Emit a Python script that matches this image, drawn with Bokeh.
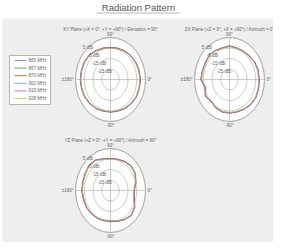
import numpy as np
from bokeh.plotting import figure
from bokeh.models import Range1d
from bokeh.embed import file_html
from bokeh.resources import INLINE
from bokeh.core.properties import value

# ---------------- data ----------------
angles_deg = [0, 15, 30, 45, 60, 75, 90, 105, 120, 135, 150, 165,
              180, 195, 210, 225, 240, 255, 270, 285, 300, 315, 330, 345]
freq_labels = ["865 MHz", "867 MHz", "870 MHz", "902 MHz", "915 MHz", "928 MHz"]
colors = ["#7070ee", "#33a033", "#e03030", "#30b8b8", "#cc44cc", "#c8c83c"]

ring_levels = [5, -5, -15, -25]
ring_labels = ["5 dBi", "-5 dBi", "-15 dBi", "-25 dBi"]
gain_min, gain_max = -35, 5
angle_tick_labels = ["0°", "90°", "±180°", "-90°"]

main_title = "Radiation Pattern"
plane_titles = ["XY Plane (+X = 0°, +Y = +90°) / Elevation = 90°",
                "ZX Plane (+Z = 0°, +X = +90°) / Azimuth = 0°",
                "YZ Plane (+Z = 0°, +Y = +90°) / Azimuth = 90°"]

XY_865 = [-1.0,-1.2,-1.8,-2.5,-3.5,-4.2,-4.5,-4.0,-3.0,-1.5,-0.8,-0.6,-0.5,-0.8,-1.2,-2.0,-3.0,-3.8,-4.0,-3.8,-3.0,-2.0,-1.2,-0.9]
XY_867 = [-1.1,-1.3,-1.9,-2.6,-3.4,-4.1,-4.4,-4.1,-3.1,-1.6,-0.9,-0.7,-0.6,-0.9,-1.3,-2.1,-3.1,-3.9,-4.1,-3.7,-2.9,-2.1,-1.3,-1.0]
XY_870 = [-0.8,-1.0,-1.6,-2.3,-3.3,-4.0,-4.3,-3.8,-2.8,-1.3,-0.6,-0.4,-0.3,-0.6,-1.0,-1.8,-2.8,-3.6,-3.8,-3.6,-2.8,-1.8,-1.0,-0.7]
XY_902 = [-1.4,-1.6,-2.1,-2.9,-3.8,-4.6,-4.9,-4.4,-3.3,-1.9,-1.1,-0.9,-0.9,-1.1,-1.6,-2.4,-3.3,-4.1,-4.4,-4.2,-3.4,-2.4,-1.5,-1.2]
XY_915 = [-1.2,-1.4,-2.0,-2.7,-3.6,-4.4,-4.7,-4.2,-3.2,-1.7,-1.0,-0.8,-0.7,-1.0,-1.4,-2.2,-3.2,-4.0,-4.2,-4.0,-3.2,-2.2,-1.4,-1.1]
XY_928 = [-1.6,-1.8,-2.3,-3.0,-4.0,-4.8,-5.1,-4.6,-3.5,-2.1,-1.3,-1.1,-1.0,-1.3,-1.8,-2.6,-3.5,-4.3,-4.6,-4.4,-3.6,-2.6,-1.7,-1.4]

ZX_865 = [-1.0,-1.0,-1.8,-3.0,-3.8,-3.8,-3.0,-3.8,-3.0,-2.2,-3.0,-3.0,-2.2,-6.2,-3.0,-5.4,-3.8,-3.0,-3.0,-3.0,-2.2,-1.0,-0.2,-0.6]
ZX_867 = [-1.2,-1.1,-1.9,-3.1,-3.7,-3.9,-3.2,-3.9,-3.1,-2.4,-3.2,-3.1,-2.5,-6.5,-3.3,-5.6,-4.0,-3.1,-3.1,-3.1,-2.3,-1.1,-0.4,-0.8]
ZX_870 = [-0.9,-0.8,-1.6,-2.8,-3.6,-3.6,-2.8,-3.6,-2.8,-2.0,-2.8,-2.8,-2.0,-6.0,-2.8,-5.2,-3.6,-2.8,-2.8,-2.8,-2.0,-0.8,-0.1,-0.5]
ZX_902 = [-1.4,-1.5,-2.2,-3.4,-4.1,-4.2,-3.5,-4.1,-3.3,-2.6,-3.5,-3.4,-2.8,-6.9,-3.6,-5.9,-4.2,-3.4,-3.4,-3.3,-2.6,-1.4,-0.6,-1.0]
ZX_915 = [-1.3,-1.3,-2.0,-3.2,-4.0,-4.0,-3.3,-4.0,-3.2,-2.5,-3.3,-3.2,-2.6,-6.6,-3.4,-5.7,-4.1,-3.2,-3.2,-3.2,-2.4,-1.2,-0.5,-0.9]
ZX_928 = [-1.6,-1.7,-2.4,-3.6,-4.3,-4.4,-3.7,-4.3,-3.5,-2.8,-3.7,-3.6,-3.0,-7.2,-3.8,-6.1,-4.4,-3.6,-3.6,-3.5,-2.8,-1.6,-0.8,-1.2]

YZ_865 = [-7.8,-5.0,-2.2,-1.8,-3.0,-4.2,-4.6,-3.8,-1.4,-0.6,-1.8,-2.2,-2.2,-3.0,-3.0,-3.8,-4.6,-5.4,-5.8,-4.6,-3.0,-1.4,-3.0,-7.0]
YZ_867 = [-8.0,-5.2,-2.3,-1.9,-3.1,-4.3,-4.7,-3.9,-1.5,-0.8,-1.9,-2.3,-2.4,-3.1,-3.2,-3.9,-4.7,-5.5,-5.9,-4.7,-3.1,-1.6,-3.2,-7.2]
YZ_870 = [-7.6,-4.8,-2.0,-1.6,-2.8,-4.0,-4.4,-3.6,-1.2,-0.4,-1.6,-2.0,-2.0,-2.8,-2.8,-3.6,-4.4,-5.2,-5.6,-4.4,-2.8,-1.2,-2.8,-6.8]
YZ_902 = [-8.3,-5.5,-2.6,-2.2,-3.4,-4.6,-5.0,-4.2,-1.8,-1.0,-2.2,-2.6,-2.6,-3.4,-3.4,-4.2,-5.0,-5.8,-6.2,-5.0,-3.4,-1.8,-3.4,-7.5]
YZ_915 = [-8.1,-5.3,-2.5,-2.0,-3.2,-4.4,-4.8,-4.0,-1.6,-0.9,-2.0,-2.4,-2.5,-3.2,-3.3,-4.0,-4.9,-5.6,-6.0,-4.8,-3.2,-1.7,-3.3,-7.3]
YZ_928 = [-8.5,-5.7,-2.8,-2.4,-3.6,-4.8,-5.2,-4.4,-2.0,-1.2,-2.4,-2.8,-2.8,-3.6,-3.6,-4.4,-5.2,-6.0,-6.4,-5.2,-3.6,-2.0,-3.6,-7.7]

planes = [
    [XY_865, XY_867, XY_870, XY_902, XY_915, XY_928],
    [ZX_865, ZX_867, ZX_870, ZX_902, ZX_915, ZX_928],
    [YZ_865, YZ_867, YZ_870, YZ_902, YZ_915, YZ_928],
]

# ---------------- layout ----------------
W, H = 273, 242
centers = [(118, 87), (237, 87), (118, 198)]
RX, RY = 35, 42
FONT = value("Liberation Sans")
TXT = "#666666"
GRID = "#a8a8a8"

p = figure(width=W, height=H, x_range=Range1d(8, 8 + W), y_range=Range1d(8 + H, 8),
           output_backend="svg", toolbar_location=None, min_border=0,
           x_axis_location=None, y_axis_location=None)
p.grid.visible = False
p.outline_line_color = None
p.background_fill_color = "white"
p.border_fill_color = "white"

# panel background
p.quad(left=10, right=8 + W, top=26, bottom=8 + H, fill_color="#eeeeee", line_color=None)

# main title
p.text(x=[146], y=[15], text=[main_title], text_font=FONT, text_font_size="9.5px",
       text_align="center", text_baseline="middle", text_color="#555555")
p.segment(x0=[104], y0=[20.5], x1=[188], y1=[20.5], line_color="#888888", line_width=0.6)


def norm(db):
    return (np.asarray(db, dtype=float) - gain_min) / (gain_max - gain_min)


for (cx, cy), ptitle, series in zip(centers, plane_titles, planes):
    # plot area
    p.ellipse(x=[cx], y=[cy], width=[2 * RX], height=[2 * RY],
              fill_color="white", line_color=GRID, line_width=0.8)
    rn_rings = norm(ring_levels)
    p.ellipse(x=[cx] * len(rn_rings), y=[cy] * len(rn_rings),
              width=list(2 * RX * rn_rings), height=list(2 * RY * rn_rings),
              fill_color=None, line_color=GRID, line_width=0.6)
    p.segment(x0=[cx - RX, cx], y0=[cy, cy - RY], x1=[cx + RX, cx], y1=[cy, cy + RY],
              line_color=GRID, line_width=0.6)

    # data traces
    th = np.deg2rad(angles_deg + [angles_deg[0] + 360])
    for vals, col in zip(series, colors):
        rn = norm(list(vals) + [vals[0]])
        p.line(x=cx + RX * rn * np.cos(th), y=cy - RY * rn * np.sin(th),
               line_color=col, line_width=0.7, line_alpha=0.85)

    # ring labels
    a = np.deg2rad(130)
    p.text(x=list(cx + RX * rn_rings * np.cos(a)), y=list(cy - RY * rn_rings * np.sin(a)),
           text=ring_labels, text_font=FONT, text_font_size="4.5px",
           text_align="center", text_baseline="middle", text_color=TXT)

    # angle labels
    p.text(x=[cx + RX + 2], y=[cy], text=[angle_tick_labels[0]], text_font=FONT,
           text_font_size="4.5px", text_align="left", text_baseline="middle", text_color=TXT)
    p.text(x=[cx], y=[cy - RY - 1], text=[angle_tick_labels[1]], text_font=FONT,
           text_font_size="4.5px", text_align="center", text_baseline="bottom", text_color=TXT)
    p.text(x=[cx - RX - 2], y=[cy], text=[angle_tick_labels[2]], text_font=FONT,
           text_font_size="4.5px", text_align="right", text_baseline="middle", text_color=TXT)
    p.text(x=[cx], y=[cy + RY + 1], text=[angle_tick_labels[3]], text_font=FONT,
           text_font_size="4.5px", text_align="center", text_baseline="top", text_color=TXT)

    # plane title
    p.text(x=[cx], y=[cy - RY - 8], text=[ptitle], text_font=FONT, text_font_size="4.5px",
           text_align="center", text_baseline="middle", text_color=TXT)

# legend
lx0, lx1, ly0, ly1 = 17, 58, 63, 112
p.quad(left=lx0, right=lx1, top=ly0, bottom=ly1, fill_color="white",
       line_color="#999999", line_width=0.7)
row_y = [68 + 7.6 * i for i in range(len(freq_labels))]
p.segment(x0=[22] * len(row_y), y0=row_y, x1=[34] * len(row_y), y1=row_y,
          line_color=colors, line_width=0.8)
p.text(x=[36] * len(row_y), y=row_y, text=freq_labels, text_font=FONT,
       text_font_size="4.5px", text_align="left", text_baseline="middle", text_color=TXT)

open("out.html", "w").write(file_html(p, INLINE))
